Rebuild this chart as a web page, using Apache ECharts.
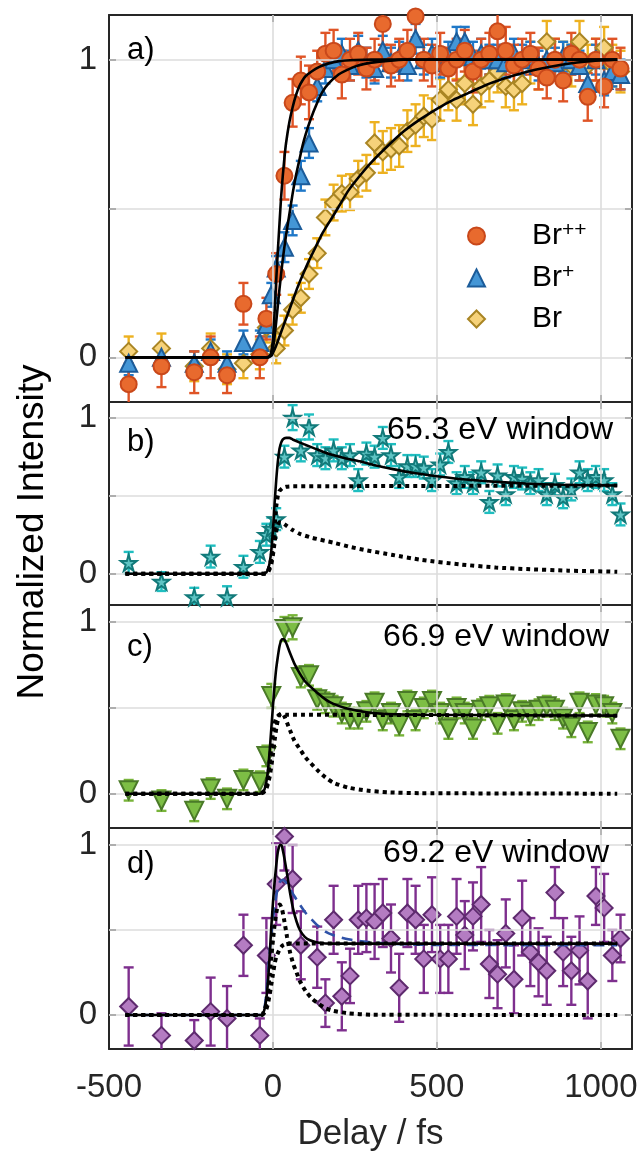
<!DOCTYPE html>
<html><head><meta charset="utf-8">
<script src="https://cdn.jsdelivr.net/npm/echarts@6/dist/echarts.min.js"></script>
<style>html,body{margin:0;padding:0;background:#fff}#c{width:638px;height:1151px}</style>
</head><body><div id="c"></div>
<script>
// ---------- data ----------
const delays = [-440,-340,-240,-190,-140,-90,-40,-20,-5,
  10,35,60,85,110,135,160,185,210,235,260,
  285,310,335,360,385,410,435,460,485,510,
  535,560,585,610,635,660,685,710,735,760,
  785,810,835,860,885,910,935,960,985,1010,
  1035,1060];
const tickX = [-500, 0, 500, 1000];
const tickY = [0, 0.5, 1];
const labelY = [0, 1];

// panel a
const brPP = [-0.09,-0.03,-0.05,0.0,-0.06,0.18,0.0,0.13,null,
  0.28,0.61,0.855,0.93,0.89,0.96,1.02,1.03,0.95,1.0,1.02,
  0.97,1.0,1.12,0.98,1.0,1.03,1.145,1.0,0.98,1.02,
  0.97,1.0,1.03,0.96,1.0,1.02,1.095,1.03,0.98,1.0,
  1.02,0.97,0.94,1.0,0.93,1.02,1.0,0.875,1.0,0.91,
  1.0,0.97];
const brPPErr = [0.07,0.07,0.07,0.07,0.06,0.07,0.07,0.07,0.07,
  0.07,0.08,0.08,0.08,0.09,0.07,0.07,0.07,0.08,0.07,0.07,
  0.07,0.07,0.07,0.07,0.07,0.07,0.07,0.07,0.07,0.07,
  0.07,0.07,0.07,0.07,0.07,0.07,0.07,0.08,0.07,0.07,
  0.07,0.07,0.07,0.07,0.07,0.07,0.07,0.08,0.07,0.07,
  0.07,0.07];
const brP = [-0.02,0.0,-0.02,0.02,-0.02,0.05,0.05,0.11,0.21,
  0.3,0.37,0.46,0.61,0.72,0.91,0.97,1.0,1.02,0.98,1.03,
  0.99,0.97,1.03,0.99,1.01,0.98,1.07,1.0,1.02,0.99,
  1.01,1.06,1.06,1.01,1.02,1.0,1.0,0.99,1.02,1.0,
  1.01,0.98,1.0,0.99,1.01,1.0,0.98,0.92,1.0,0.93,
  0.96,0.95];
const brPErr = [0.04,0.04,0.04,0.04,0.04,0.04,0.04,0.04,0.04,
  0.04,0.05,0.05,0.05,0.05,0.05,0.05,0.05,0.05,0.05,0.05,
  0.05,0.05,0.05,0.05,0.05,0.05,0.05,0.05,0.05,0.05,
  0.05,0.05,0.05,0.05,0.05,0.05,0.05,0.05,0.05,0.05,
  0.05,0.05,0.05,0.05,0.05,0.05,0.05,0.05,0.05,0.05,
  0.05,0.05];
const br = [0.02,0.03,-0.03,0.03,-0.04,-0.02,0.01,0.1,null,
  0.03,0.09,0.16,0.2,0.28,0.35,0.47,0.52,0.55,0.555,0.6,
  0.62,0.72,0.69,0.7,0.71,0.76,0.78,0.81,0.8,0.865,
  0.9,0.865,0.92,0.85,0.91,0.93,0.96,0.91,0.9,0.92,
  0.99,0.97,1.06,1.0,0.99,0.98,1.06,0.98,1.0,1.04,
  0.98,0.96];
const brErr = [0.05,0.05,0.05,0.05,0.05,0.05,0.05,0.05,0.05,
  0.05,0.05,0.05,0.05,0.05,0.05,0.06,0.06,0.06,0.06,0.06,
  0.06,0.07,0.07,0.07,0.07,0.07,0.07,0.07,0.07,0.07,
  0.07,0.07,0.07,0.07,0.07,0.07,0.07,0.07,0.07,0.07,
  0.07,0.07,0.07,0.07,0.07,0.07,0.07,0.07,0.07,0.07,
  0.07,0.07];

// panel b (65.3 eV)
const w653 = [0.07,-0.05,-0.15,0.11,-0.15,0.045,0.14,0.25,0.29,
  0.35,0.75,1.0,0.79,0.94,0.76,0.74,0.79,0.74,0.76,0.6,
  0.77,0.75,0.87,0.76,0.62,0.69,0.69,0.68,0.6,0.7,
  0.78,0.58,0.62,0.58,0.65,0.46,0.63,0.51,0.62,0.61,
  0.58,0.6,0.51,0.57,0.49,0.54,0.65,0.6,0.62,0.6,
  0.51,0.38];
const w653Err = [0.07,0.06,0.06,0.07,0.07,0.07,0.07,0.07,0.07,
  0.07,0.07,0.08,0.07,0.08,0.07,0.07,0.07,0.07,0.07,0.07,
  0.07,0.07,0.07,0.07,0.07,0.07,0.07,0.07,0.07,0.07,
  0.07,0.07,0.07,0.07,0.07,0.07,0.07,0.07,0.07,0.07,
  0.07,0.07,0.07,0.07,0.07,0.07,0.07,0.07,0.07,0.07,
  0.07,0.07];

// panel c (66.9 eV)
const w669 = [0.02,-0.04,-0.1,0.03,-0.03,0.08,0.07,0.22,0.57,
  null,0.96,0.97,0.68,0.69,0.55,0.53,0.51,0.47,0.44,0.44,
  0.48,0.53,0.43,0.47,0.4,0.54,0.43,0.5,0.54,0.47,
  0.38,0.5,0.47,0.38,0.49,0.51,0.41,0.52,0.43,0.48,
  0.46,0.49,0.51,0.49,0.44,0.39,0.53,0.36,0.52,0.51,
  0.47,0.32];
const w669Err = [0.06,0.06,0.06,0.06,0.06,0.06,0.06,0.06,0.07,
  0.07,0.07,0.07,0.06,0.06,0.06,0.06,0.06,0.06,0.06,0.06,
  0.06,0.06,0.06,0.06,0.06,0.06,0.06,0.06,0.06,0.06,
  0.06,0.06,0.06,0.06,0.06,0.06,0.06,0.06,0.06,0.06,
  0.06,0.06,0.06,0.06,0.06,0.06,0.06,0.06,0.06,0.06,
  0.06,0.06];

// panel d (69.2 eV)
const w692 = [0.05,-0.12,-0.15,0.02,-0.02,0.41,-0.12,0.35,null,
  0.77,1.05,0.8,0.41,null,0.34,0.07,0.56,0.11,0.23,0.56,
  0.57,0.55,0.6,0.45,0.16,0.6,0.56,0.33,0.59,0.33,
  0.33,0.58,0.47,0.58,0.65,0.3,0.24,0.48,0.21,0.57,
  0.37,0.31,0.26,0.72,0.37,0.26,0.38,0.2,0.7,0.63,
  0.35,0.45];
const w692Err = [0.23,0.13,0.12,0.2,0.19,0.18,0.1,0.22,0.2,
  0.24,0.2,0.2,0.2,0.2,0.18,0.14,0.2,0.2,0.16,0.2,
  0.2,0.22,0.2,0.2,0.2,0.2,0.2,0.2,0.22,0.2,
  0.2,0.22,0.2,0.2,0.22,0.2,0.2,0.2,0.2,0.22,
  0.2,0.2,0.2,0.15,0.2,0.2,0.2,0.22,0.17,0.2,
  0.15,0.14];

// fit curves as [delay, value]
const fitBrPP = [[-450,0],[-20,0],[-10,0.005],[-5,0.02],[0,0.06],[5,0.15],[10,0.26],[15,0.36],[20,0.45],[25,0.54],[30,0.61],[35,0.67],[40,0.72],[50,0.79],[60,0.84],[70,0.88],[80,0.91],[90,0.93],[100,0.945],[120,0.962],[140,0.975],[160,0.984],[180,0.99],[200,0.995],[250,0.999],[300,1],[1050,1]];
const fitBrP = [[-450,0],[-15,0],[-5,0.01],[0,0.03],[5,0.07],[10,0.12],[20,0.23],[30,0.33],[40,0.41],[50,0.48],[60,0.55],[70,0.61],[80,0.66],[90,0.71],[100,0.75],[115,0.8],[133,0.85],[150,0.89],[170,0.92],[200,0.95],[225,0.965],[260,0.98],[300,0.99],[350,0.996],[400,1],[1050,1]];
const fitBr = [[-450,0],[-15,0],[-5,0.005],[0,0.015],[10,0.04],[20,0.07],[30,0.1],[45,0.145],[60,0.19],[75,0.235],[92,0.28],[110,0.325],[130,0.37],[150,0.415],[175,0.46],[200,0.505],[230,0.56],[265,0.61],[300,0.655],[350,0.71],[400,0.76],[450,0.8],[500,0.835],[550,0.865],[600,0.89],[650,0.915],[700,0.935],[750,0.952],[800,0.966],[850,0.977],[900,0.986],[950,0.993],[1000,0.997],[1050,1]];

const fit653 = [[-450,0],[-30,0],[-20,0.01],[-15,0.03],[-10,0.07],[-5,0.15],[0,0.28],[5,0.45],[10,0.6],[15,0.72],[20,0.8],[25,0.84],[30,0.86],[40,0.87],[50,0.87],[60,0.86],[82,0.84],[100,0.825],[130,0.8],[160,0.775],[183,0.76],[220,0.74],[265,0.72],[310,0.695],[366,0.67],[430,0.645],[500,0.625],[580,0.605],[671,0.59],[770,0.578],[875,0.57],[960,0.567],[1050,0.565]];
const fit653Step = [[-450,0],[-30,0],[-20,0.005],[-15,0.02],[-10,0.05],[-5,0.1],[0,0.18],[5,0.3],[10,0.43],[15,0.5],[20,0.53],[30,0.55],[40,0.557],[60,0.56],[1050,0.565]];
const fit653Decay = [[-450,0],[-30,0],[-20,0.003],[-15,0.01],[-10,0.03],[-5,0.06],[0,0.12],[5,0.2],[10,0.27],[15,0.31],[20,0.33],[30,0.325],[40,0.31],[60,0.28],[82,0.255],[120,0.23],[183,0.2],[240,0.17],[286,0.15],[366,0.12],[450,0.09],[570,0.06],[680,0.04],[774,0.03],[900,0.02],[1050,0.013]];

const fit669 = [[-450,0],[-40,0],[-30,0.01],[-25,0.03],[-20,0.07],[-15,0.14],[-10,0.25],[-5,0.38],[0,0.51],[5,0.63],[10,0.73],[15,0.8],[20,0.86],[27,0.9],[33,0.9],[40,0.88],[52,0.82],[65,0.76],[82,0.7],[100,0.65],[134,0.59],[160,0.55],[183,0.525],[220,0.5],[286,0.475],[350,0.465],[450,0.46],[1050,0.455]];
const fit669Step = [[-450,0],[-40,0],[-30,0.01],[-25,0.02],[-20,0.05],[-15,0.1],[-10,0.18],[-5,0.27],[0,0.35],[5,0.41],[10,0.44],[20,0.46],[40,0.46],[1050,0.455]];
const fit669Decay = [[-450,0],[-40,0],[-30,0.005],[-25,0.015],[-20,0.03],[-15,0.06],[-10,0.1],[-5,0.16],[0,0.23],[5,0.31],[10,0.38],[15,0.43],[20,0.46],[27,0.47],[35,0.45],[52,0.37],[65,0.31],[82,0.26],[100,0.21],[134,0.14],[160,0.095],[183,0.065],[230,0.035],[286,0.018],[350,0.008],[450,0.003],[1050,0]];

const fit692 = [[-450,0],[-35,0],[-30,0.01],[-25,0.04],[-20,0.1],[-15,0.2],[-10,0.35],[-5,0.52],[0,0.66],[5,0.78],[10,0.88],[15,0.96],[21,1.0],[26,1.0],[30,0.97],[36,0.91],[43,0.83],[52,0.72],[62,0.62],[72,0.55],[82,0.5],[97,0.46],[113,0.44],[140,0.425],[183,0.42],[1050,0.42]];
const fit692Alt = [[-450,0],[-35,0],[-30,0.01],[-25,0.05],[-20,0.13],[-15,0.25],[-10,0.37],[-5,0.47],[0,0.56],[5,0.64],[10,0.7],[15,0.75],[22,0.785],[30,0.795],[40,0.78],[50,0.75],[65,0.7],[82,0.65],[100,0.6],[134,0.53],[160,0.49],[183,0.47],[230,0.445],[286,0.43],[350,0.42],[450,0.413],[1050,0.41]];
const fit692Decay = [[-450,0],[-35,0],[-30,0.01],[-25,0.03],[-20,0.07],[-15,0.14],[-10,0.24],[-5,0.34],[0,0.44],[5,0.53],[10,0.6],[15,0.64],[21,0.65],[28,0.62],[35,0.55],[43,0.46],[52,0.37],[62,0.3],[72,0.25],[82,0.2],[100,0.14],[120,0.095],[140,0.065],[160,0.04],[183,0.025],[230,0.01],[300,0.002],[1050,0]];
const fit692Step = [[-450,0],[-35,0],[-30,0.005],[-25,0.015],[-20,0.035],[-15,0.07],[-10,0.12],[-5,0.18],[0,0.24],[5,0.3],[10,0.34],[20,0.385],[30,0.41],[43,0.42],[1050,0.42]];

// ---------- chart ----------
const FONT = '"Liberation Sans", Arial, Helvetica, sans-serif';
const AXC = '#262626';
const STAR = 'path://M50,0 L61,35 L98,35 L68,57 L79,91 L50,70 L21,91 L32,57 L2,35 L39,35 Z';

const grids = [
  {left:109, top:15, width:523, height:387},
  {left:109, top:402, width:523, height:203},
  {left:109, top:605, width:523, height:223},
  {left:109, top:828, width:523, height:221}
];
const yRanges = [[-0.15,1.15],[-0.2,1.1],[-0.2,1.1],[-0.2,1.1]];

const xAxis = [], yAxis = [];
grids.forEach((g, gi) => {
  const lineCfg = {show:true, onZero:false, lineStyle:{color:AXC, width:2}};
  const tickCfg = {show:true, inside:true, length:7, lineStyle:{color:AXC, width:2}};
  const cx = {gridIndex:gi, type:'value', min:-500, max:1095, interval:500,
    splitLine:{show:false}, axisLine:lineCfg, axisTick:tickCfg};
  xAxis.push(Object.assign({}, cx, {position:'bottom',
    axisLabel: gi === 3 ? {show:true, fontSize:33, fontFamily:FONT, color:AXC, margin:22,
      formatter: v => (tickX.indexOf(v) >= 0 ? String(v) : '')} : {show:false},
    name: gi === 3 ? 'Delay / fs' : '', nameLocation:'middle', nameGap:68,
    nameTextStyle:{fontSize:35, fontFamily:FONT, color:AXC}}));
  xAxis.push(Object.assign({}, cx, {position:'top', axisLabel:{show:false}}));
  const cy = {gridIndex:gi, type:'value', min:yRanges[gi][0], max:yRanges[gi][1],
    splitLine:{show:false}, axisLine:lineCfg,
    axisTick:Object.assign({}, tickCfg, {customValues:tickY})};
  yAxis.push(Object.assign({}, cy, {position:'left',
    axisLabel:{show:true, customValues:labelY, fontSize:33, fontFamily:FONT, color:AXC, margin:12}}));
  yAxis.push(Object.assign({}, cy, {position:'right', axisLabel:{show:false}}));
});

const pts = vals => delays.map((d, i) => [d, vals[i]]).filter(p => p[1] != null);
const errPts = (vals, errs) => delays.map((d, i) => [d, vals[i], errs[i]]).filter(p => p[1] != null);

function errSeries(gi, vals, errs, color) {
  return {type:'custom', xAxisIndex:gi*2, yAxisIndex:gi*2, data:errPts(vals, errs),
    clip:true, z:2, silent:true, encode:{x:0, y:1},
    renderItem:(params, api) => {
      const x = api.value(0), y = api.value(1), e = api.value(2);
      const t = api.coord([x, y + e]), b = api.coord([x, y - e]);
      const st = {stroke:color, lineWidth:2.4};
      const cap = 5;
      return {type:'group', children:[
        {type:'line', shape:{x1:t[0], y1:t[1], x2:b[0], y2:b[1]}, style:st},
        {type:'line', shape:{x1:t[0]-cap, y1:t[1], x2:t[0]+cap, y2:t[1]}, style:st},
        {type:'line', shape:{x1:b[0]-cap, y1:b[1], x2:b[0]+cap, y2:b[1]}, style:st}
      ]};
    }};
}
function markSeries(gi, name, vals, symbol, size, fill, edge, rotate) {
  return {type:'scatter', name, xAxisIndex:gi*2, yAxisIndex:gi*2, data:pts(vals),
    symbol, symbolSize:size, symbolRotate:rotate || 0, silent:true,
    itemStyle:{color:fill, borderColor:edge, borderWidth:2, opacity:1}, z:3};
}
function fitSeries(gi, data, lineStyle) {
  return {type:'line', xAxisIndex:gi*2, yAxisIndex:gi*2, data, showSymbol:false, symbol:'none',
    smooth:0.2, lineStyle, z:5, silent:true};
}
function gridLines(gi) {
  return {type:'line', xAxisIndex:gi*2, yAxisIndex:gi*2, data:[], z:1, silent:true,
    markLine:{silent:true, symbol:['none','none'], label:{show:false}, animation:false,
      lineStyle:{color:'#DCDCDC', width:1.6, type:'solid'},
      data:[...tickX.slice(1).map(v => ({xAxis:v})), ...tickY.map(v => ({yAxis:v}))]}};
}
const SOLID = {color:'#000', width:2.6, type:'solid'};
const DOT = {color:'#000', width:4, type:[4,4], cap:'butt'};
const BLUEDASH = {color:'#2F52A8', width:2.6, type:[11,7]};

const series = [
  gridLines(0), gridLines(1), gridLines(2), gridLines(3),
  // a
  errSeries(0, br, brErr, '#EDB120'),
  errSeries(0, brP, brPErr, '#1F78C8'),
  errSeries(0, brPP, brPPErr, '#DF5426'),
  markSeries(0, 'Br', br, 'diamond', 17, '#F6D27A', '#A98524'),
  markSeries(0, 'Br+', brP, 'triangle', 17, '#4496D6', '#1C5C9A'),
  markSeries(0, 'Br++', brPP, 'circle', 16, '#E86A2E', '#C9481A'),
  fitSeries(0, fitBrPP, SOLID), fitSeries(0, fitBrP, SOLID), fitSeries(0, fitBr, SOLID),
  // b
  errSeries(1, w653, w653Err, '#1FBEC0'),
  markSeries(1, '65.3', w653, STAR, 16, '#5EC4C4', '#127A7A'),
  fitSeries(1, fit653, SOLID), fitSeries(1, fit653Step, DOT), fitSeries(1, fit653Decay, DOT),
  // c
  errSeries(2, w669, w669Err, '#78B43A'),
  markSeries(2, '66.9', w669, 'triangle', 18, '#7DBE45', '#4A7A28', 180),
  fitSeries(2, fit669, SOLID), fitSeries(2, fit669Step, DOT), fitSeries(2, fit669Decay, DOT),
  // d
  errSeries(3, w692, w692Err, '#7E2F8E'),
  markSeries(3, '69.2', w692, 'diamond', 17, '#B47CC2', '#5E2A6E'),
  fitSeries(3, fit692Alt, BLUEDASH),
  fitSeries(3, fit692, SOLID), fitSeries(3, fit692Step, DOT), fitSeries(3, fit692Decay, DOT)
];

const txt = (x, y, text, size, align, extra) => Object.assign({type:'text', x, y, z:100,
  style:{text, font:size + 'px ' + FONT, fill:'#000', align:align || 'left', verticalAlign:'middle'}}, extra || {});

const option = {
  animation:false,
  backgroundColor:'#fff',
  grid:grids.map(g => Object.assign({show:false, containLabel:false, outerBoundsMode:'none'}, g)),
  xAxis, yAxis, series,
  legend:{orient:'vertical', left:462, top:215, itemWidth:17, itemHeight:17, itemGap:11,
    selectedMode:false,
    data:[{name:'Br++', icon:'circle'}, {name:'Br+', icon:'triangle'}, {name:'Br', icon:'diamond'}],
    formatter: n => n === 'Br++' ? '{b|Br}{s|++}' : (n === 'Br+' ? '{b|Br}{s|+}' : '{b|Br}'),
    textStyle:{rich:{
      b:{fontSize:30, fontFamily:FONT, color:'#000', padding:[0,0,0,42], lineHeight:32},
      s:{fontSize:21, fontFamily:FONT, color:'#000', verticalAlign:'top', lineHeight:16}}}},
  graphic:[
    txt(127, 50, 'a)', 31),
    txt(127, 442, 'b)', 31),
    txt(127, 647, 'c)', 31),
    txt(127, 864, 'd)', 31),
    txt(613, 430, '65.3 eV window', 32, 'right'),
    txt(609, 637, '66.9 eV window', 32, 'right'),
    txt(609, 853, '69.2 eV window', 32, 'right'),
    txt(33, 532, 'Normalized Intensity', 37, 'center', {rotation:Math.PI/2})
  ]
};
const chart = echarts.init(document.getElementById('c'), null, {renderer:'canvas'});
chart.setOption(option);
</script></body></html>
